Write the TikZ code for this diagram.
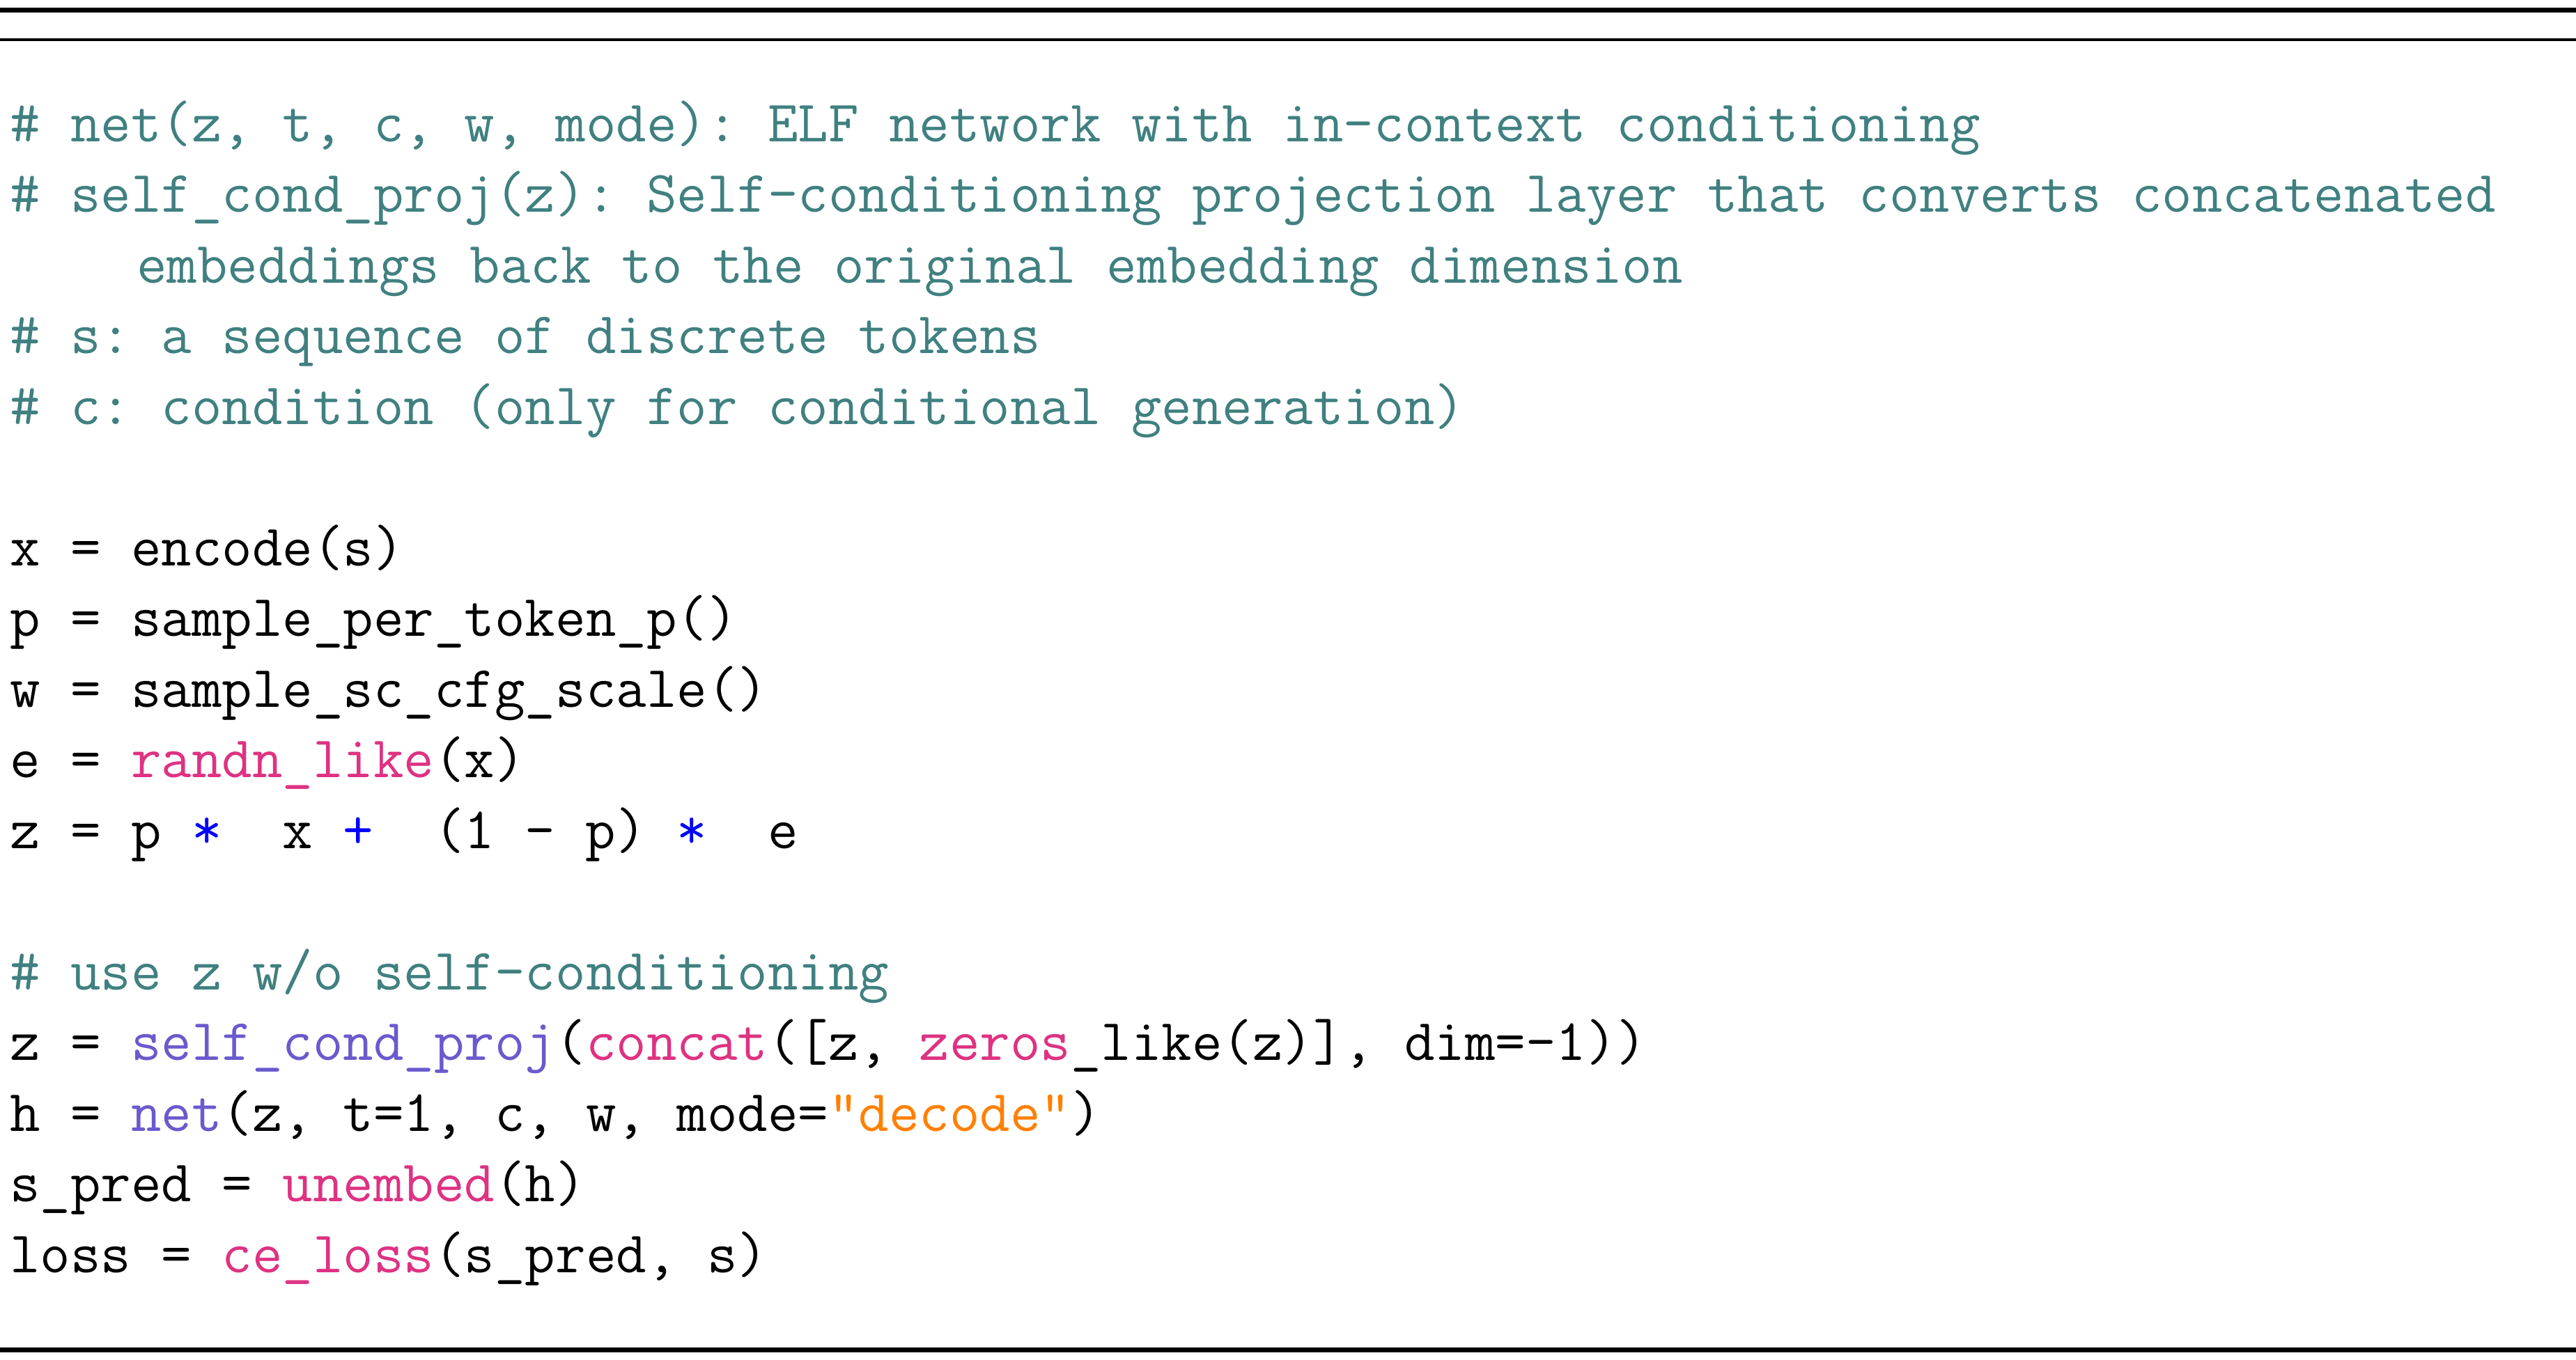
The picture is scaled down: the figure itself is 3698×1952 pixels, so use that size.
\documentclass[tikz,border=0pt]{standalone}
\usepackage{fontspec}
\usepackage{xcolor}
\definecolor{cm}{RGB}{64,128,128}
\definecolor{fn}{RGB}{106,90,205}
\definecolor{mg}{RGB}{222,50,130}
\definecolor{st}{RGB}{255,128,0}
\definecolor{op}{RGB}{0,0,255}
\frenchspacing
\begin{document}
\begin{tikzpicture}[x=1pt,y=-1pt,
  ln/.style={anchor=base west,inner sep=0pt,font=\fontsize{84.5}{100}\ttfamily\frenchspacing}]
\useasboundingbox (0,0) rectangle (3698,1952);
\draw[line width=7pt] (0,14) -- (3698,14);
\draw[line width=3.5pt] (0,57) -- (3698,57);
\draw[line width=7pt] (0,1938) -- (3698,1938);
\node[ln,text=cm] (l0) at (14,203) {\# net(z, t, c, w, mode): ELF network with in-context conditioning};
\node[ln,text=cm] (l1) at (14,304.5) {\# self\_cond\_proj(z): Self-conditioning projection layer that converts concatenated};
\node[ln,text=cm] (l2) at (196,406) {embeddings back to the original embedding dimension};
\node[ln,text=cm] (l3) at (14,507.5) {\# s: a sequence of discrete tokens};
\node[ln,text=cm] (l4) at (14,609) {\# c: condition (only for conditional generation)};
\node[ln] (l6) at (14,812) {x = encode(s)};
\node[ln] (l7) at (14,913.5) {p = sample\_per\_token\_p()};
\node[ln] (l8) at (14,1015) {w = sample\_sc\_cfg\_scale()};
\node[ln] (l9) at (14,1116.5) {e = \textcolor{mg}{randn\_like}(x)};
\node[ln] (l10) at (14,1218) {z = p \textcolor{op}{*}\ \ x \textcolor{op}{+}\ \ (1 - p) \textcolor{op}{*}\ \ e};
\node[ln,text=cm] (l12) at (14,1421) {\# use z w/o self-conditioning};
\node[ln] (l13) at (14,1522.5) {z = \textcolor{fn}{self\_cond\_proj}(\textcolor{mg}{concat}([z, \textcolor{mg}{zeros}\_like(z)], dim=-1))};
\node[ln] (l14) at (14,1624) {h = \textcolor{fn}{net}(z, t=1, c, w, mode=\textcolor{st}{"decode"})};
\node[ln] (l15) at (14,1725.5) {s\_pred = \textcolor{mg}{unembed}(h)};
\node[ln] (l16) at (14,1827) {loss = \textcolor{mg}{ce\_loss}(s\_pred, s)};
\end{tikzpicture}
\end{document}
